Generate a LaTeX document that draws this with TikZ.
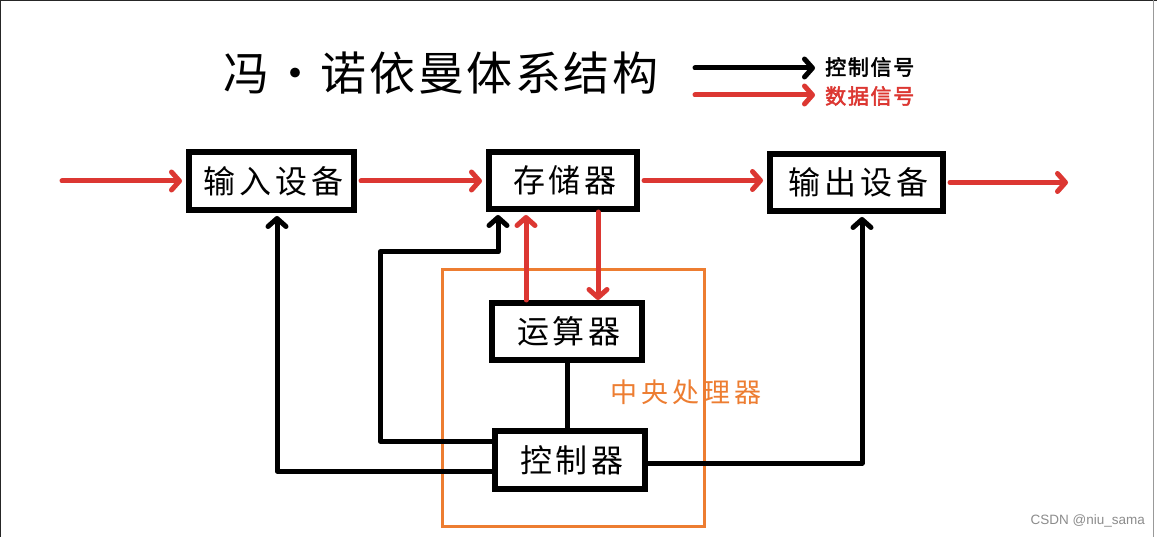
\documentclass[tikz,border=0pt]{standalone}
\usepackage{fontspec}
\newfontfamily\cjk[AutoFakeBold=2.5]{Noto Sans CJK SC}
\setsansfont{Liberation Sans}
\usetikzlibrary{arrows.meta}
\definecolor{sigred}{RGB}{220,55,50}
\definecolor{cpuorange}{RGB}{237,125,49}
\tikzset{
  unitbox/.style={draw=black, line width=6pt, fill=white, inner sep=0pt, font=\cjk\addfontfeature{LetterSpace=12}\fontsize{32}{32}\selectfont},
  ctl/.style={draw=black, line width=5pt, line cap=round, line join=round},
  dat/.style={draw=sigred, line width=5pt, line cap=round, line join=round},
  tip/.style={-{Straight Barb[length=8pt,width=18pt,line cap=round,line join=round]}},
}
\begin{document}
\begin{tikzpicture}[x=1pt,y=-1pt]
\useasboundingbox (0,0) rectangle (1157,537);
\fill[white] (0,0) rectangle (1157,537);
\draw[line width=2pt, black!85] (0,537) -- (0,0) -- (1157,0);
\draw[line width=1pt, black!40] (1153,0) -- (1153,537);

% title and legend
\node[font=\cjk\addfontfeature{LetterSpace=5.5}\fontsize{46}{46}\selectfont, anchor=center] (title) at (441,73) {冯·诺依曼体系结构};
\node[font=\cjk\bfseries\addfontfeature{LetterSpace=8}\fontsize{21}{21}\selectfont, anchor=west, inner sep=0pt] (lg1) at (825,67) {控制信号};
\node[font=\cjk\bfseries\addfontfeature{LetterSpace=8}\fontsize{21}{21}\selectfont, text=sigred, anchor=west, inner sep=0pt] (lg2) at (825,96) {数据信号};
\coordinate (lg1s) at (695,68);
\coordinate (lg2s) at (695,95);
\draw[ctl,tip] (lg1s) -- ([xshift=-10pt]lg1s -| lg1.west);
\draw[dat,tip] (lg2s) -- ([xshift=-10pt]lg2s -| lg2.west);

% CPU frame
\draw[cpuorange, line width=3pt] (442,270) rectangle (704,526);
\node[font=\cjk\addfontfeature{LetterSpace=15}\fontsize{27}{27}\selectfont, text=cpuorange, inner sep=0pt, anchor=west] (cpu) at (610,392) {中央处理器};

% units
\node[unitbox, minimum width=165pt, minimum height=58pt] (in) at (271.5,181) {\hspace{3.8pt}输入设备};
\node[unitbox, minimum width=148pt, minimum height=57pt] (mem) at (563,180.5) {\hspace{3.8pt}存储器};
\node[unitbox, minimum width=173pt, minimum height=57pt] (out) at (856.5,182.5) {\hspace{3.8pt}输出设备};
\node[unitbox, minimum width=150pt, minimum height=57pt] (alu) at (567,331.5) {\hspace{3.8pt}运算器};
\node[unitbox, minimum width=150pt, minimum height=58pt] (ctrl) at (570,460) {\hspace{3.8pt}控制器};

% helper coordinates
\coordinate (src) at (62,181);
\coordinate (snk) at (1068,182);
\coordinate (xa) at (526,0);
\coordinate (xb) at (598,0);
\coordinate (xin) at (277,0);
\coordinate (xmem) at (498,0);
\coordinate (xout) at (862,0);
\coordinate (j1) at (380,252);

% data signals
\draw[dat,tip] (src) -- ([xshift=-4pt]src -| in.west);
\draw[dat,tip] ([xshift=4pt]in.east) -- ([xshift=-4pt]in.east -| mem.west);
\draw[dat,tip] ([xshift=4pt]mem.east) -- ([xshift=-4pt]mem.east -| out.west);
\draw[dat,tip] ([xshift=4pt]out.east) -- (out.east -| snk);
\draw[dat,tip] (alu.north -| xa) -- ([yshift=-3pt]mem.south -| xa);
\draw[dat,tip] (mem.south -| xb) -- (alu.north -| xb);

% control signals
\draw[ctl] (alu.south) -- (alu.south |- ctrl.north);
\draw[ctl,tip] ([yshift=-11pt]ctrl.west) -| ([yshift=-3pt]in.south -| xin);
\draw[ctl,tip] ([yshift=19pt]ctrl.west) -| (j1) -| ([yshift=-3pt]mem.south -| xmem);
\draw[ctl,tip] ([yshift=-3pt]ctrl.east) -| ([yshift=-3pt]out.south -| xout);

% watermark
\node[font=\sffamily\fontsize{13.5}{13.5}\selectfont, text=black!45, anchor=east, inner sep=0pt] (wm) at (1145,521) {CSDN @niu\_sama};
\end{tikzpicture}
\end{document}
